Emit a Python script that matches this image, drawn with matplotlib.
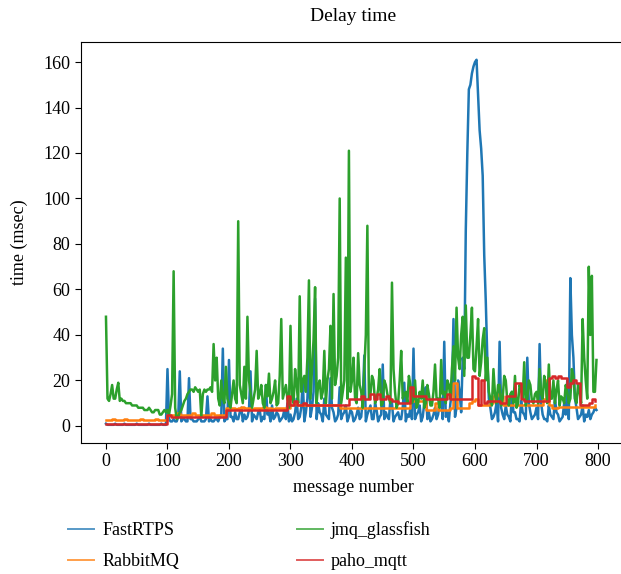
import numpy as np
import matplotlib
matplotlib.use('Agg')
import matplotlib.pyplot as plt

plt.rcParams['font.family'] = ['Liberation Serif', 'DejaVu Serif']

# message number sampled every 5 messages (red / orange steps)
msg = np.arange(0, 800, 5)
# noisy series are read every 2.5 messages: main values at msg, in-between values at msg + 2.5
msg_fine = np.arange(0, 800, 2.5)

fastrtps = [
    1, 0.5, 0.5, 1, 0.5, 0.5, 1, 0.5, 0.5, 0.5, 1, 0.5, 0.5, 0.5, 1, 0.5, 0.5, 0.5, 1, 0.5,
    25, 2, 3, 2, 24, 3, 2, 21, 3, 2, 3, 2, 2, 13, 3, 2, 3, 4, 34, 3,
    29, 4, 6, 3, 8, 5, 4, 24, 5, 3, 7, 4, 18, 6, 9, 4, 5, 3, 7, 10,
    5, 3, 12, 4, 20, 6, 30, 8, 56, 10, 5, 12, 4, 21, 6, 3, 17, 5, 9, 4,
    6, 3, 8, 4, 31, 5, 9, 3, 7, 4, 27, 6, 3, 10, 4, 6, 3, 19, 5, 8,
    34, 5, 9, 4, 17, 6, 3, 8, 5, 12, 37, 6, 10, 47, 8, 15, 30, 86, 148, 155,
    160, 145, 122, 75, 30, 8, 4, 10, 37, 5, 9, 4, 15, 6, 3, 11, 5, 30, 6, 4,
    8, 36, 5, 3, 9, 4, 12, 5, 3, 10, 20, 65, 30, 8, 4, 9, 5, 7, 5, 8,
]
fastrtps_mid = [
    0.5, 0.5, 0.5, 0.5, 0.5, 0.5, 0.5, 0.5, 0.5, 0.5, 0.5, 0.5, 0.5, 0.5, 0.5, 0.5, 0.5, 0.5, 0.5, 0.5,
    3, 2, 2, 4, 2, 3, 2, 3, 2, 2, 4, 2, 3, 2, 2, 3, 2, 5, 2, 3,
    4, 2, 3, 6, 2, 3, 7, 2, 4, 6, 2, 3, 5, 2, 3, 6, 2, 4, 3, 2,
    2, 6, 3, 8, 2, 12, 4, 15, 3, 6, 2, 5, 3, 8, 2, 5, 3, 6, 2, 7,
    2, 5, 3, 12, 2, 7, 3, 10, 2, 5, 3, 4, 12, 2, 5, 3, 8, 2, 4, 3,
    3, 6, 2, 10, 3, 2, 5, 3, 10, 3, 4, 2, 15, 4, 20, 6, 25, 120, 150, 158,
    161, 130, 110, 55, 12, 3, 6, 2, 8, 3, 5, 2, 6, 3, 2, 6, 3, 10, 3, 5,
    3, 10, 3, 2, 5, 3, 6, 2, 4, 5, 3, 40, 12, 3, 5, 2, 4, 3, 6, 7,
]

rabbitmq = [
    2.5, 2.5, 3, 2.5, 2.5, 2.5, 3, 2.5, 2.5, 2.5, 2.5, 3, 2.5, 2.5, 2.5, 2.5, 3, 2.5, 2.5, 2.5,
    5, 5, 5, 5.5, 5, 5, 5, 5, 5.5, 5, 5, 5, 5, 5, 5.5, 5, 5, 5, 5, 8,
    8, 8, 7.5, 8, 8.5, 8, 8, 7.5, 8, 8, 8, 8.5, 8, 8, 7.5, 8, 8, 8, 8, 8,
    9, 10, 9, 9, 9, 9, 9, 9, 9, 9, 9, 9, 9, 9, 9, 9, 8, 8, 8, 8,
    8, 8, 8, 8, 8, 8, 8, 8, 8, 8, 8, 8, 8, 8, 8, 8, 8, 8, 8, 11,
    11, 11, 11, 11, 7, 7, 7, 10, 7, 7, 7, 7, 8, 19, 8, 8, 8, 8, 10, 11,
    12, 9, 9, 9, 9, 10, 13, 14, 13, 9, 9, 9, 9, 9, 9, 9, 9, 9, 9, 9,
    9, 9, 12, 20, 9, 8, 8, 8.5, 8.5, 8.5, 8.5, 8.5, 8.5, 8.5, 8.5, 8.5, 8.5, 8.5, 8.5, 9,
]

jmq_glassfish = [
    48, 11, 18, 12, 19, 12, 11, 10, 10, 9, 9, 8, 8, 7, 8, 6, 7, 7, 5, 7,
    7, 9, 68, 3, 6, 9, 12, 15, 16, 17, 15, 4, 16, 16, 17, 36, 30, 9, 12, 26,
    10, 14, 12, 90, 14, 26, 48, 15, 12, 33, 14, 10, 18, 23, 12, 20, 10, 47, 15, 12,
    44, 10, 18, 57, 20, 15, 64, 25, 61, 18, 12, 33, 20, 44, 58, 22, 100, 15, 74, 121,
    20, 12, 32, 15, 25, 88, 14, 20, 12, 25, 10, 18, 12, 63, 15, 10, 33, 14, 10, 18,
    12, 8, 15, 20, 10, 14, 9, 27, 12, 29, 15, 20, 12, 35, 52, 25, 48, 53, 30, 52,
    24, 47, 28, 43, 30, 12, 25, 10, 18, 12, 20, 9, 15, 22, 10, 16, 28, 12, 18, 10,
    15, 25, 12, 18, 27, 12, 10, 20, 13, 10, 15, 12, 22, 10, 15, 47, 20, 70, 66, 15,
]
jmq_glassfish_mid = [
    12, 14, 12, 16, 11, 11, 10, 10, 9, 9, 8, 8, 7, 7, 7, 6, 7, 5, 6, 6,
    5, 14, 8, 4, 7, 11, 14, 16, 15, 16, 16, 14, 15, 16, 15, 20, 12, 20, 10, 12,
    8, 20, 10, 18, 10, 12, 20, 8, 16, 12, 18, 8, 13, 10, 15, 9, 22, 12, 18, 8,
    12, 25, 10, 15, 22, 30, 12, 38, 10, 20, 15, 10, 25, 12, 18, 30, 10, 20, 12, 15,
    30, 10, 18, 8, 40, 12, 22, 10, 16, 9, 20, 14, 10, 25, 8, 20, 12, 15, 22, 10,
    20, 10, 12, 8, 18, 9, 15, 12, 8, 14, 10, 18, 25, 20, 30, 40, 22, 30, 40, 25,
    35, 22, 38, 20, 15, 9, 14, 18, 9, 22, 11, 14, 10, 8, 18, 12, 9, 20, 11, 14,
    10, 14, 22, 10, 12, 20, 16, 9, 12, 18, 10, 25, 12, 18, 10, 30, 12, 40, 15, 29,
]

paho_mqtt = [
    1, 1, 1, 1, 1, 1, 1, 1, 1, 1, 1, 1, 1, 1, 1, 1, 1, 1, 1, 1,
    5, 4, 4, 4, 4, 4, 4, 4, 4, 4, 4, 4, 4, 4, 4, 4, 4, 4, 4, 7,
    7, 7, 7, 7, 7, 7, 7, 7, 7, 7, 7, 7, 7, 7, 7, 7, 7, 7, 7, 13,
    9, 11, 9, 9, 10, 9, 9, 9, 9, 9, 9, 9, 9, 9, 9, 9, 9, 9, 9, 12,
    12, 12, 12, 13, 12, 12, 14, 12, 14, 12, 12, 13, 12, 11, 11, 10, 10, 10, 10, 17,
    13, 13, 13, 13, 12, 12, 12, 12, 12, 12, 12, 14, 12, 12, 12, 12, 12, 12, 12, 22,
    21, 9, 20, 10, 11, 11, 11, 11, 10, 10, 13, 13, 13, 19, 19, 12, 11, 11, 11, 11,
    11, 11, 11, 11, 21, 22, 21, 22, 21, 21, 17, 19, 20, 19, 9, 9, 9, 10, 12, 11,
]


def interleave(main, mid):
    out = np.empty(len(main) + len(mid))
    out[0::2] = main
    out[1::2] = mid
    return out


series = [
    ('FastRTPS', msg_fine, interleave(fastrtps, fastrtps_mid), '#1f77b4', 'default'),
    ('RabbitMQ', msg, rabbitmq, '#ff7f0e', 'steps-post'),
    ('jmq_glassfish', msg_fine, interleave(jmq_glassfish, jmq_glassfish_mid), '#2ca02c', 'default'),
    ('paho_mqtt', msg, paho_mqtt, '#d62728', 'steps-post'),
]

fig = plt.figure(figsize=(6.21, 5.74), dpi=100)
ax = fig.add_axes([81 / 621, 1 - 443 / 574, 545 / 621, 401 / 574])

for name, xs, vals, color, ds in series:
    ax.plot(xs, vals, color=color, linewidth=1.8, drawstyle=ds, label=name)

ax.set_xlim(-40.6, 845.5)
ax.set_ylim(-7.5, 168.8)
ax.set_xticks(range(0, 801, 100))
ax.set_yticks(range(0, 161, 20))
ax.spines['right'].set_visible(False)
ax.tick_params(labelsize=13, length=4)
ax.set_title('Delay time', fontsize=14, pad=15)
ax.set_xlabel('message number', fontsize=13, labelpad=6)
ax.set_ylabel('time (msec)', fontsize=13, labelpad=11)

handles, labels = ax.get_legend_handles_labels()
leg = fig.legend(handles, labels, ncol=2, loc='upper left',
                 bbox_to_anchor=(68 / 621, 1 - 521 / 574), frameon=False,
                 fontsize=13, borderpad=0, borderaxespad=0, handlelength=1.45,
                 handletextpad=0.45, labelspacing=0.8, columnspacing=6.5)
for line in leg.get_lines():
    line.set_linewidth(1.4)
    line.set_alpha(0.75)

fig.savefig('out.png', dpi=100)
